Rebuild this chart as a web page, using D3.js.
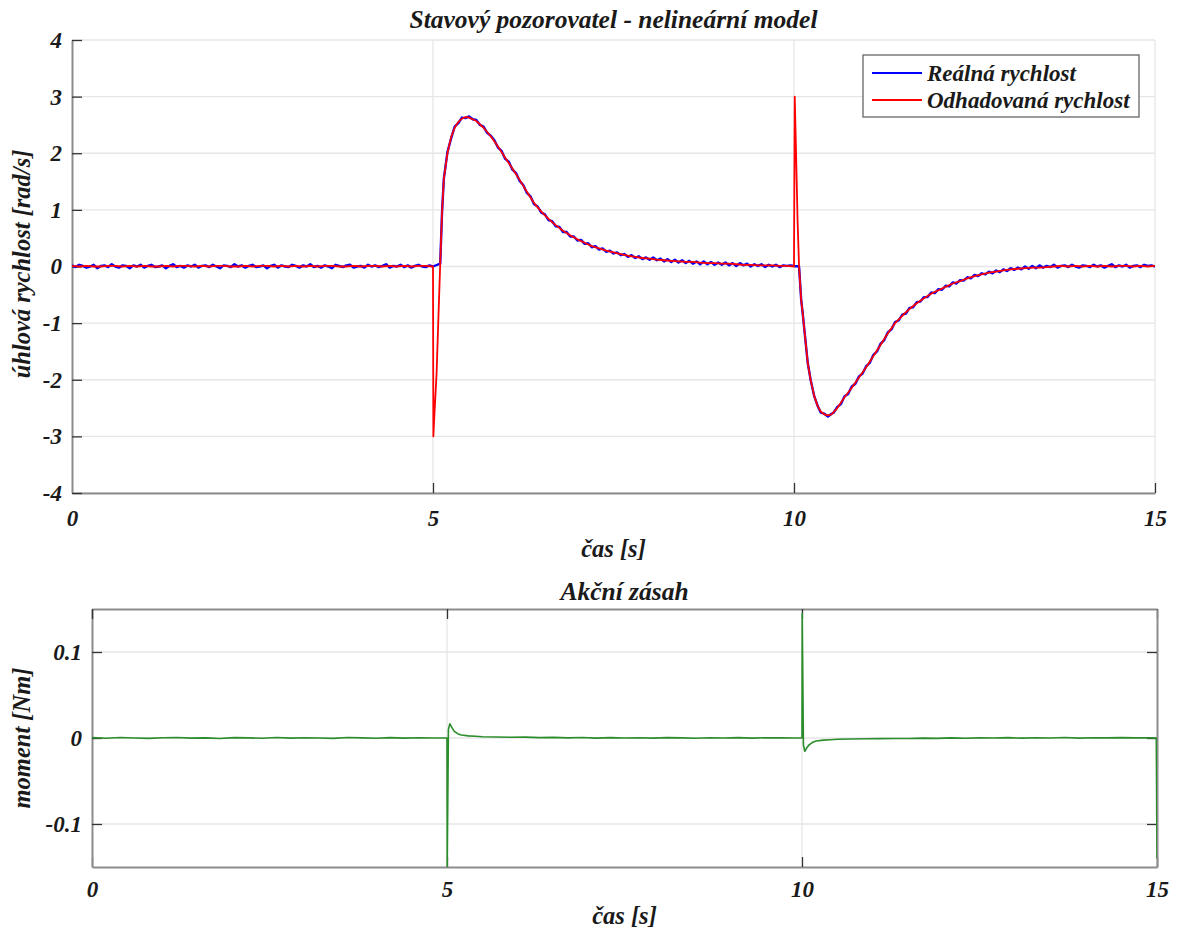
<!DOCTYPE html>
<html>
<head>
<meta charset="utf-8">
<script src="https://cdn.jsdelivr.net/npm/d3@7"></script>
<style>
  body { margin: 0; background: #fff; }
  text { font-family: 'Liberation Serif', 'Times New Roman', serif; font-weight: bold; font-style: italic; fill: #1a1a1a; }
</style>
</head>
<body>
<div class="container"></div>
<script>
// tick labels
const timeTicks = [0, 5, 10, 15];
const speedTicks = [-4, -3, -2, -1, 0, 1, 2, 3, 4];
const torqueTicks = [-0.1, 0, 0.1];

// real (measured) angular velocity [rad/s]
const realTime = [
  0.00, 0.05, 0.10, 0.15, 0.20, 0.25, 0.30, 0.35, 0.40, 0.45,
  0.50, 0.55, 0.60, 0.65, 0.70, 0.75, 0.80, 0.85, 0.90, 0.95,
  1.00, 1.05, 1.10, 1.15, 1.20, 1.25, 1.30, 1.35, 1.40, 1.45,
  1.50, 1.55, 1.60, 1.65, 1.70, 1.75, 1.80, 1.85, 1.90, 1.95,
  2.00, 2.05, 2.10, 2.15, 2.20, 2.25, 2.30, 2.35, 2.40, 2.45,
  2.50, 2.55, 2.60, 2.65, 2.70, 2.75, 2.80, 2.85, 2.90, 2.95,
  3.00, 3.05, 3.10, 3.15, 3.20, 3.25, 3.30, 3.35, 3.40, 3.45,
  3.50, 3.55, 3.60, 3.65, 3.70, 3.75, 3.80, 3.85, 3.90, 3.95,
  4.00, 4.05, 4.10, 4.15, 4.20, 4.25, 4.30, 4.35, 4.40, 4.45,
  4.50, 4.55, 4.60, 4.65, 4.70, 4.75, 4.80, 4.85, 4.90, 4.95,
  5.0, 5.1, 5.125, 5.15, 5.2, 5.25, 5.3, 5.35, 5.4, 5.45,
  5.50, 5.55, 5.60, 5.65, 5.70, 5.75, 5.80, 5.85, 5.90, 5.95,
  6.00, 6.05, 6.10, 6.15, 6.20, 6.25, 6.30, 6.35, 6.40, 6.45,
  6.50, 6.55, 6.60, 6.65, 6.70, 6.75, 6.80, 6.85, 6.90, 6.95,
  7.00, 7.05, 7.10, 7.15, 7.20, 7.25, 7.30, 7.35, 7.40, 7.45,
  7.50, 7.55, 7.60, 7.65, 7.70, 7.75, 7.80, 7.85, 7.90, 7.95,
  8.00, 8.05, 8.10, 8.15, 8.20, 8.25, 8.30, 8.35, 8.40, 8.45,
  8.50, 8.55, 8.60, 8.65, 8.70, 8.75, 8.80, 8.85, 8.90, 8.95,
  9.00, 9.05, 9.10, 9.15, 9.20, 9.25, 9.30, 9.35, 9.40, 9.45,
  9.50, 9.55, 9.60, 9.65, 9.70, 9.75, 9.80, 9.85, 9.90, 9.95,
  10.0, 10.07, 10.1, 10.12, 10.15, 10.19, 10.23, 10.28, 10.33, 10.37,
  10.42, 10.47, 10.52,
  10.55, 10.60, 10.65, 10.70, 10.75, 10.80, 10.85, 10.90, 10.95, 11.00,
  11.05, 11.10, 11.15, 11.20, 11.25, 11.30, 11.35, 11.40, 11.45, 11.50,
  11.55, 11.60, 11.65, 11.70, 11.75, 11.80, 11.85, 11.90, 11.95, 12.00,
  12.05, 12.10, 12.15, 12.20, 12.25, 12.30, 12.35, 12.40, 12.45, 12.50,
  12.55, 12.60, 12.65, 12.70, 12.75, 12.80, 12.85, 12.90, 12.95, 13.00,
  13.05, 13.10, 13.15, 13.20, 13.25, 13.30, 13.35, 13.40, 13.45, 13.50,
  13.55, 13.60, 13.65, 13.70, 13.75, 13.80, 13.85, 13.90, 13.95, 14.00,
  14.05, 14.10, 14.15, 14.20, 14.25, 14.30, 14.35, 14.40, 14.45, 14.50,
  14.55, 14.60, 14.65, 14.70, 14.75, 14.80, 14.85, 14.90, 14.95, 15.00
];
const realSpeed = [
  0.02, -0.01, 0.03, 0.01, -0.02, 0.00, 0.03, -0.03, 0.01, 0.02,
  -0.01, 0.04, 0.00, -0.02, 0.02, 0.01, -0.03, 0.02, 0.00, 0.03,
  -0.02, 0.01, 0.03, -0.01, 0.00, 0.02, -0.03, 0.01, 0.04, -0.01,
  0.01, -0.02, 0.02, 0.00, 0.03, -0.02, 0.01, 0.02, -0.01, 0.03,
  0.00, -0.03, 0.02, 0.01, -0.01, 0.04, 0.00, 0.02, -0.02, 0.01,
  0.03, -0.01, 0.00, 0.02, -0.03, 0.01, 0.03, -0.02, 0.02, 0.00,
  -0.01, 0.03, 0.01, -0.02, 0.02, 0.00, 0.04, -0.01, 0.01, -0.02,
  0.02, 0.00, -0.03, 0.03, 0.01, -0.01, 0.02, 0.03, -0.02, 0.00,
  0.01, -0.02, 0.03, 0.00, 0.02, -0.01, 0.01, 0.04, -0.02, 0.01,
  0.00, 0.03, -0.01, 0.02, -0.02, 0.01, 0.03, 0.00, -0.01, 0.02,
  0.00, 0.05, 0.95, 1.55, 2.02, 2.26, 2.47, 2.53, 2.63, 2.62,
  2.65, 2.60, 2.59, 2.50, 2.47, 2.36, 2.31, 2.23, 2.10, 2.04,
  1.90, 1.85, 1.71, 1.65, 1.51, 1.44, 1.30, 1.24, 1.10, 1.06,
  0.95, 0.92, 0.82, 0.80, 0.71, 0.70, 0.61, 0.61, 0.53, 0.53,
  0.46, 0.47, 0.40, 0.41, 0.34, 0.36, 0.30, 0.32, 0.26, 0.28,
  0.23, 0.25, 0.20, 0.22, 0.17, 0.20, 0.15, 0.18, 0.13, 0.16,
  0.12, 0.16, 0.11, 0.14, 0.09, 0.13, 0.08, 0.12, 0.07, 0.11,
  0.06, 0.10, 0.05, 0.09, 0.04, 0.09, 0.04, 0.08, 0.03, 0.07,
  0.03, 0.07, 0.02, 0.06, 0.01, 0.06, 0.02, 0.05, 0.00, 0.04,
  0.01, 0.04, -0.01, 0.03, 0.00, 0.03, -0.01, 0.02, 0.01, 0.02,
  0.01, 0.00, -0.60, -0.82, -1.20, -1.70, -2.00, -2.29, -2.47, -2.58,
  -2.60, -2.65, -2.60,
  -2.58, -2.48, -2.43, -2.29, -2.25, -2.12, -2.07, -1.94, -1.89, -1.76,
  -1.70, -1.56, -1.50, -1.36, -1.30, -1.16, -1.11, -0.98, -0.95, -0.85,
  -0.83, -0.73, -0.72, -0.63, -0.62, -0.54, -0.54, -0.46, -0.47, -0.40,
  -0.41, -0.34, -0.35, -0.28, -0.30, -0.24, -0.25, -0.19, -0.21, -0.15,
  -0.17, -0.12, -0.14, -0.09, -0.12, -0.07, -0.10, -0.05, -0.08, -0.03,
  -0.06, -0.02, -0.05, 0.00, -0.04, 0.01, -0.03, 0.02, -0.02, 0.01,
  -0.01, 0.03, -0.02, 0.01, 0.02, -0.01, 0.03, 0.00, -0.02, 0.02,
  0.01, -0.01, 0.03, 0.00, 0.02, -0.02, 0.01, 0.04, -0.01, 0.02,
  0.00, 0.03, -0.02, 0.01, 0.02, -0.01, 0.03, 0.01, 0.02, 0.00
];

// observer estimate of the angular velocity [rad/s]
const estTime = [
  0.0, 0.1, 0.2, 0.3, 0.4, 0.5, 0.6, 0.7, 0.8, 0.9,
  1.0, 1.1, 1.2, 1.3, 1.4, 1.5, 1.6, 1.7, 1.8, 1.9,
  2.0, 2.1, 2.2, 2.3, 2.4, 2.5, 2.6, 2.7, 2.8, 2.9,
  3.0, 3.1, 3.2, 3.3, 3.4, 3.5, 3.6, 3.7, 3.8, 3.9,
  4.0, 4.1, 4.2, 4.3, 4.4, 4.5, 4.6, 4.7, 4.8, 4.9,
  5.0, 5.005, 5.02, 5.05, 5.075, 5.1, 5.125, 5.15, 5.2, 5.25,
  5.3, 5.35, 5.4, 5.45, 5.5, 5.6, 5.7, 5.8, 5.9, 6.0,
  6.1, 6.2, 6.3, 6.4, 6.5, 6.6, 6.7, 6.8, 6.9, 7.0,
  7.1, 7.2, 7.3, 7.4, 7.5, 7.6, 7.7, 7.8, 7.9, 8.0,
  8.1, 8.2, 8.3, 8.4, 8.5, 8.6, 8.7, 8.8, 8.9, 9.0,
  9.1, 9.2, 9.3, 9.4, 9.5, 9.6, 9.7, 9.8, 9.9, 10.0,
  10.01, 10.025, 10.05, 10.07, 10.1, 10.12, 10.15, 10.19, 10.23, 10.28,
  10.33, 10.37, 10.42, 10.47, 10.52, 10.6, 10.7, 10.8, 10.9, 11.0,
  11.1, 11.2, 11.3, 11.4, 11.5, 11.6, 11.7, 11.8, 11.9, 12.0,
  12.1, 12.2, 12.3, 12.4, 12.5, 12.6, 12.7, 12.8, 12.9, 13.0,
  13.1, 13.2, 13.3, 13.4, 13.5, 13.6, 13.7, 13.8, 13.9, 14.0,
  14.1, 14.2, 14.3, 14.4, 14.5, 14.6, 14.7, 14.8, 14.9, 15.0
];
const estSpeed = [
  0.01, 0.00, 0.01, 0.00, 0.00, 0.01, 0.01, 0.00, 0.01, 0.00,
  0.01, 0.00, 0.00, 0.01, 0.00, 0.01, 0.01, 0.00, 0.01, 0.00,
  0.01, 0.01, 0.00, 0.00, 0.01, 0.00, 0.01, 0.01, 0.00, 0.01,
  0.00, 0.01, 0.00, 0.01, 0.00, 0.01, 0.01, 0.00, 0.00, 0.01,
  0.00, 0.01, 0.01, 0.00, 0.01, 0.00, 0.01, 0.00, 0.01, 0.01,
  0.00, -3.00, -2.60, -1.88, -0.90, 0.05, 0.95, 1.55, 2.00, 2.28,
  2.45, 2.55, 2.61, 2.64, 2.63, 2.57, 2.45, 2.30, 2.12, 1.92,
  1.73, 1.53, 1.32, 1.12, 0.97, 0.84, 0.73, 0.63, 0.55, 0.48,
  0.42, 0.36, 0.32, 0.28, 0.25, 0.22, 0.19, 0.17, 0.15, 0.14,
  0.12, 0.11, 0.10, 0.09, 0.08, 0.08, 0.07, 0.06, 0.06, 0.05,
  0.05, 0.04, 0.03, 0.03, 0.02, 0.02, 0.02, 0.01, 0.01, 0.00,
  3.00, 2.20, 0.80, 0.00, -0.60, -0.82, -1.20, -1.70, -2.00, -2.29,
  -2.47, -2.56, -2.61, -2.63, -2.61, -2.50, -2.31, -2.14, -1.96, -1.78,
  -1.58, -1.38, -1.18, -1.00, -0.87, -0.75, -0.65, -0.56, -0.48, -0.42,
  -0.36, -0.30, -0.26, -0.21, -0.17, -0.14, -0.11, -0.09, -0.07, -0.05,
  -0.04, -0.03, -0.02, -0.02, -0.01, 0.00, 0.01, 0.00, 0.01, 0.00,
  0.01, 0.00, 0.01, 0.00, 0.01, 0.01, 0.00, 0.01, 0.00, 0.01
];

// control action (torque) [Nm]
const torqueTime = [
  0.0, 0.2, 0.4, 0.6, 0.8, 1.0, 1.2, 1.4, 1.6, 1.8,
  2.0, 2.2, 2.4, 2.6, 2.8, 3.0, 3.2, 3.4, 3.6, 3.8,
  4.0, 4.2, 4.4, 4.6, 4.8,
  5.0, 5.003, 5.02, 5.04, 5.07, 5.1, 5.15, 5.2, 5.3, 5.4, 5.5,
  5.7, 5.9, 6.1, 6.3, 6.5, 6.7, 6.9, 7.1, 7.3, 7.5,
  7.7, 7.9, 8.1, 8.3, 8.5, 8.7, 8.9, 9.1, 9.3, 9.5,
  9.7, 9.9,
  10.0, 10.003, 10.02, 10.04, 10.07, 10.1, 10.15, 10.2, 10.3, 10.4, 10.5,
  10.7, 10.9, 11.1, 11.3, 11.5, 11.7, 11.9, 12.1, 12.3, 12.5,
  12.7, 12.9, 13.1, 13.3, 13.5, 13.7, 13.9, 14.1, 14.3, 14.5,
  14.7, 14.9,
  14.99, 15.0
];
const torque = [
  0.0004, -0.0003, 0.0005, 0.0000, -0.0004, 0.0003, 0.0006, -0.0002, 0.0002, -0.0005,
  0.0004, 0.0001, -0.0003, 0.0005, -0.0002, 0.0003, 0.0000, -0.0004, 0.0005, 0.0002,
  -0.0003, 0.0004, -0.0001, 0.0003, 0.0000,
  0.0000, -0.1490, 0.0100, 0.0165, 0.0120, 0.0080, 0.0050, 0.0035, 0.0025, 0.0020, 0.0015,
  0.0012, 0.0008, 0.0010, 0.0004, 0.0007, 0.0002, 0.0005, -0.0001, 0.0004, 0.0000,
  0.0003, -0.0002, 0.0004, 0.0001, -0.0003, 0.0003, 0.0000, 0.0004, -0.0002, 0.0003,
  0.0001, 0.0000,
  0.0000, 0.1450, -0.0080, -0.0155, -0.0110, -0.0080, -0.0050, -0.0035, -0.0025, -0.0020, -0.0015,
  -0.0012, -0.0009, -0.0007, -0.0005, -0.0006, -0.0002, -0.0004, 0.0001, -0.0003, 0.0002,
  0.0000, 0.0004, -0.0002, 0.0003, 0.0000, 0.0005, -0.0001, 0.0003, 0.0002, 0.0004,
  0.0001, 0.0003,
  0.0000, -0.1400
];

const globals = {
  gridColor: '#e6e6e6',
  axisColor: '#8c8c8c',
  tickColor: '#333',
  fontFamily: "'Liberation Serif', 'Times New Roman', serif",
  fontSize: 23,
  labelSize: 24.5,
  titleSize: 25.5
};

const svg = d3.select('.container')
  .append('svg')
  .attr('width', 1177)
  .attr('height', 929);

// draws one panel: grid, axes, ticks and labels, returns the plotting group and scales
function panel(cfg) {
  const x = d3.scaleLinear().domain([0, 15]).range([cfg.left, cfg.right]);
  const y = d3.scaleLinear().domain(cfg.yDomain).range([cfg.bottom, cfg.top]);
  const g = svg.append('g');

  // grid
  g.append('g')
    .selectAll('line')
    .data(cfg.yTicks)
    .enter()
    .append('line')
    .attr('x1', cfg.left)
    .attr('x2', cfg.right)
    .attr('y1', d => y(d))
    .attr('y2', d => y(d))
    .attr('stroke', globals.gridColor)
    .attr('stroke-width', 1.3);

  g.append('g')
    .selectAll('line')
    .data(timeTicks.filter(d => cfg.box ? d > 0 && d < 15 : d > 0))
    .enter()
    .append('line')
    .attr('x1', d => x(d))
    .attr('x2', d => x(d))
    .attr('y1', cfg.top)
    .attr('y2', cfg.bottom)
    .attr('stroke', globals.gridColor)
    .attr('stroke-width', 1.3);

  // axes with inward ticks
  const xAxis = g.append('g')
    .attr('transform', `translate(0, ${cfg.bottom})`)
    .call(d3.axisBottom(x).tickValues(timeTicks).tickSizeInner(-10).tickSizeOuter(0).tickPadding(cfg.xPad).tickFormat(d => d));

  const yAxis = g.append('g')
    .attr('transform', `translate(${cfg.left}, 0)`)
    .call(d3.axisLeft(y).tickValues(cfg.yTicks).tickSizeInner(-10).tickSizeOuter(0).tickPadding(10).tickFormat(d => d));

  [xAxis, yAxis].forEach((a) => {
    a.attr('font-family', globals.fontFamily);
    a.select('.domain').attr('stroke', globals.axisColor).attr('stroke-width', 2);
    a.selectAll('.tick line').attr('stroke', globals.tickColor).attr('stroke-width', 1.3);
    a.selectAll('.tick text')
      .attr('font-size', globals.fontSize)
      .attr('fill', '#1a1a1a');
  });
  xAxis.selectAll('.tick').filter(d => !cfg.box && d === 0).select('line').remove();

  if (cfg.box) {
    g.append('g')
      .attr('transform', `translate(0, ${cfg.top})`)
      .call(d3.axisTop(x).tickValues(timeTicks).tickSizeInner(-10).tickSizeOuter(0).tickFormat(''))
      .call(a => a.select('.domain').attr('stroke', globals.axisColor).attr('stroke-width', 2))
      .call(a => a.selectAll('.tick line').attr('stroke', globals.tickColor).attr('stroke-width', 1.3));
    g.append('g')
      .attr('transform', `translate(${cfg.right}, 0)`)
      .call(d3.axisRight(y).tickValues(cfg.yTicks).tickSizeInner(-10).tickSizeOuter(0).tickFormat(''))
      .call(a => a.select('.domain').attr('stroke', globals.axisColor).attr('stroke-width', 2))
      .call(a => a.selectAll('.tick line').attr('stroke', globals.tickColor).attr('stroke-width', 1.3));
  }

  // titles
  const mid = (cfg.left + cfg.right) / 2;
  g.append('text')
    .attr('x', mid)
    .attr('y', cfg.titleY)
    .attr('text-anchor', 'middle')
    .attr('font-size', globals.titleSize)
    .text(cfg.title);

  g.append('text')
    .attr('x', mid)
    .attr('y', cfg.xLabelY)
    .attr('text-anchor', 'middle')
    .attr('font-size', globals.labelSize)
    .text('čas [s]');

  g.append('text')
    .attr('transform', `translate(30, ${cfg.yLabelMid}) rotate(-90)`)
    .attr('text-anchor', 'middle')
    .attr('font-size', globals.labelSize)
    .text(cfg.yLabel);

  // clip for the data lines
  svg.append('clipPath')
    .attr('id', cfg.id)
    .append('rect')
    .attr('x', cfg.left)
    .attr('y', cfg.top)
    .attr('width', cfg.right - cfg.left)
    .attr('height', cfg.bottom - cfg.top);

  const plot = svg.append('g').attr('clip-path', `url(#${cfg.id})`);
  return { x, y, plot };
}

// upper panel: velocity
const upper = panel({
  id: 'clipTop',
  left: 72, right: 1155, top: 40, bottom: 493,
  yDomain: [-4, 4],
  yTicks: speedTicks,
  box: false,
  xPad: 17,
  title: 'Stavový pozorovatel - nelineární model',
  titleY: 28,
  xLabelY: 557,
  yLabel: 'úhlová rychlost [rad/s]',
  yLabelMid: 264
});

const speedLine = d3.line()
  .x(d => upper.x(d[0]))
  .y(d => upper.y(d[1]));

upper.plot.append('path')
  .datum(d3.zip(realTime, realSpeed))
  .attr('d', speedLine)
  .attr('fill', 'none')
  .attr('stroke', '#0000ff')
  .attr('stroke-width', 2.4)
  .attr('stroke-linejoin', 'round');

upper.plot.append('path')
  .datum(d3.zip(estTime, estSpeed))
  .attr('d', speedLine)
  .attr('fill', 'none')
  .attr('stroke', '#ff0000')
  .attr('stroke-width', 1.8)
  .attr('stroke-linejoin', 'round');

// legend
const legend = svg.append('g');
legend.append('rect')
  .attr('x', 863)
  .attr('y', 55)
  .attr('width', 276)
  .attr('height', 62)
  .attr('fill', '#fff')
  .attr('stroke', '#666')
  .attr('stroke-width', 1.3);

const legendItems = [
  { name: 'Reálná rychlost', color: '#0000ff' },
  { name: 'Odhadovaná rychlost', color: '#ff0000' }
];
legendItems.forEach((item, i) => {
  const cy = 73 + i * 27;
  legend.append('line')
    .attr('x1', 872)
    .attr('x2', 922)
    .attr('y1', cy)
    .attr('y2', cy)
    .attr('stroke', item.color)
    .attr('stroke-width', 1.8);
  legend.append('text')
    .attr('x', 927)
    .attr('y', cy + 8)
    .attr('font-size', globals.fontSize)
    .text(item.name);
});

// lower panel: control action
const lower = panel({
  id: 'clipBottom',
  left: 92, right: 1157, top: 609, bottom: 867,
  yDomain: [-0.15, 0.15],
  yTicks: torqueTicks,
  box: true,
  xPad: 14,
  title: 'Akční zásah',
  titleY: 600,
  xLabelY: 924,
  yLabel: 'moment [Nm]',
  yLabelMid: 738
});

lower.plot.append('path')
  .datum(d3.zip(torqueTime, torque))
  .attr('d', d3.line().x(d => lower.x(d[0])).y(d => lower.y(d[1])))
  .attr('fill', 'none')
  .attr('stroke', '#2a8c2a')
  .attr('stroke-width', 1.6)
  .attr('stroke-linejoin', 'round');
</script>
</body>
</html>
